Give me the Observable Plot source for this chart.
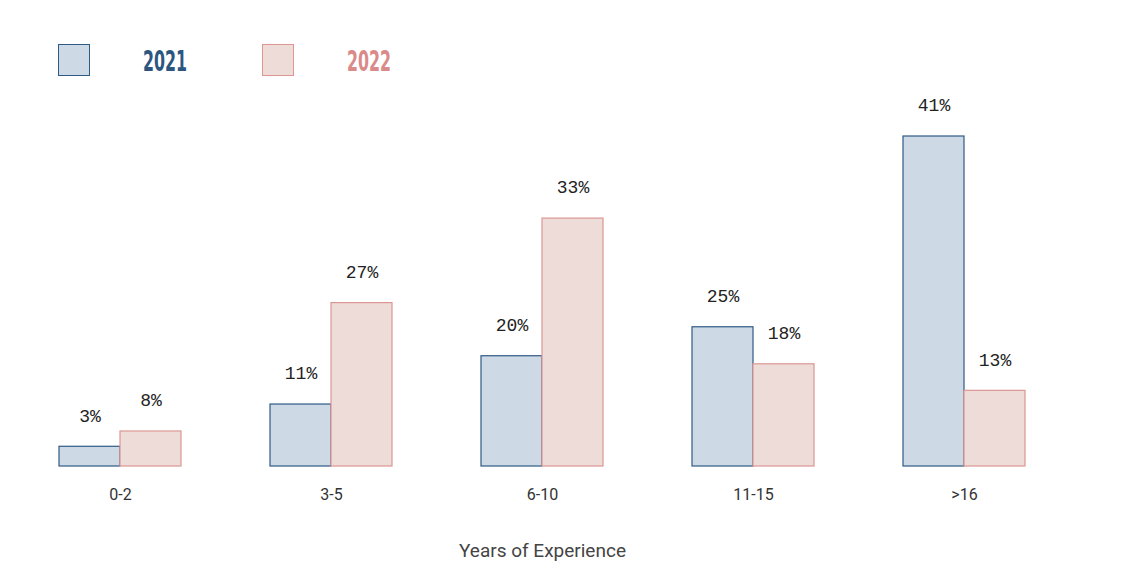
<!DOCTYPE html>
<html>
<head>
<meta charset="utf-8">
<script src="https://cdn.jsdelivr.net/npm/d3@7"></script>
<script src="https://cdn.jsdelivr.net/npm/@observablehq/plot@0.6"></script>
<style>
  html, body { margin: 0; padding: 0; background: #fff; }
  #wrap { width: 1124px; height: 572px; position: relative; overflow: hidden; }
  #legend { position: relative; height: 90px; width: 1124px; }
  .sw { position: absolute; top: 44px; width: 32px; height: 32px; box-sizing: border-box; border: 1.5px solid; }
  .lt { position: absolute; top: 47px; font-family: "DejaVu Sans Condensed", "DejaVu Sans", sans-serif; font-stretch: condensed; font-weight: bold; font-size: 29px; line-height: 1; white-space: nowrap; transform-origin: 0 0; }
  #caption { height: 42px; line-height: 42px; text-align: center; font-family: Roboto, sans-serif; font-size: 19px; color: #444; width: 1085px; }
</style>
</head>
<body>
<div id="wrap">
  <div id="legend"></div>
  <div id="chart"></div>
  <div id="caption"></div>
</div>
<script>
const categories = ["0-2", "3-5", "6-10", "11-15", ">16"];
const seriesNames = ["2021", "2022"];
const labels2021 = [3, 11, 20, 25, 41];
const labels2022 = [8, 27, 33, 18, 13];
// bar heights as drawn in the reference (in percentage units)
const bars2021 = [2.45, 7.7, 13.7, 17.3, 41];
const bars2022 = [4.35, 20.3, 30.8, 12.7, 9.4];
const axisTitle = "Years of Experience";

const colors = {
  "2021": {fill: "#cdd9e5", stroke: "#2f5a86", text: "#2b5680"},
  "2022": {fill: "#eedcd9", stroke: "#dc9794", text: "#d98a89"}
};

const data = [];
categories.forEach((c, i) => {
  data.push({cat: c, year: "2021", h: bars2021[i], label: labels2021[i] + "%"});
  data.push({cat: c, year: "2022", h: bars2022[i], label: labels2022[i] + "%"});
});

// legend
const legend = document.getElementById("legend");
const legendPos = {"2021": {sw: 58, tx: 143}, "2022": {sw: 262, tx: 347}};
seriesNames.forEach(s => {
  const sw = document.createElement("div");
  sw.className = "sw";
  sw.style.left = legendPos[s].sw + "px";
  sw.style.background = colors[s].fill;
  sw.style.borderColor = colors[s].stroke;
  legend.appendChild(sw);
  const t = document.createElement("span");
  t.className = "lt";
  t.textContent = s;
  t.style.left = legendPos[s].tx + "px";
  t.style.color = colors[s].text;
  legend.appendChild(t);
});
document.querySelectorAll(".lt").forEach(el => {
  const w = el.getBoundingClientRect().width;
  if (w > 0) el.style.transform = `scaleX(${44 / w})`;
});

const chart = Plot.plot({
  width: 1124,
  height: 440,
  marginTop: 46,
  marginBottom: 64,
  marginLeft: 14,
  marginRight: 53,
  style: {fontFamily: "Roboto, sans-serif", fontSize: "16px", color: "#333", background: "#fff"},
  fx: {domain: categories, paddingInner: 0.42, paddingOuter: 0.21, label: null, tickSize: 0, tickPadding: 22, axis: "bottom"},
  x: {domain: seriesNames, padding: 0, axis: null},
  y: {domain: [0, 41], axis: null},
  facet: {data, x: "cat"},
  marks: [
    Plot.barY(data.filter(d => d.year === "2021"), {fx: "cat", x: "year", y: "h", fill: colors["2021"].fill, stroke: colors["2021"].stroke, strokeWidth: 1.2}),
    Plot.barY(data.filter(d => d.year === "2022"), {fx: "cat", x: "year", y: "h", fill: colors["2022"].fill, stroke: colors["2022"].stroke, strokeWidth: 1.2}),
    Plot.text(data, {fx: "cat", x: "year", y: "h", text: "label", dy: -31, fontSize: 18, fontFamily: "Liberation Mono, DejaVu Sans Mono, monospace", fill: "#222"})
  ]
});
document.getElementById("chart").appendChild(chart);
// enlarge the facet axis tick labels
chart.querySelectorAll("text").forEach(t => {
  if (categories.includes(t.textContent)) {
    t.style.fontSize = "16px";
    t.style.fontFamily = "Roboto, sans-serif";
    t.style.fill = "#333";
    let g = t.parentNode;
    while (g && g !== chart) {
      if (g.getAttribute && g.getAttribute("font-size")) g.setAttribute("font-size", "16");
      g = g.parentNode;
    }
  }
});
document.getElementById("caption").textContent = axisTitle;
</script>
</body>
</html>
